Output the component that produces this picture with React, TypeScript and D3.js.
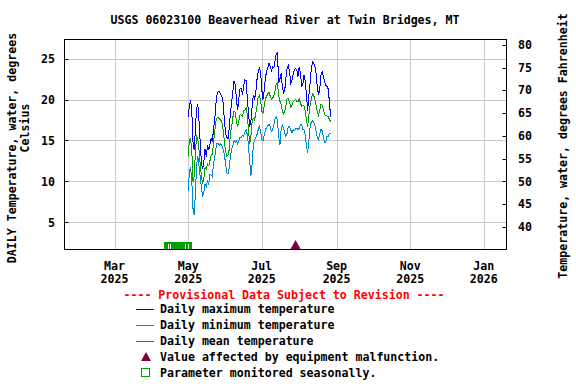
import React from 'react';
import * as d3 from 'd3';

// Daily values from 2025-05-01, degrees Celsius
const startDay = '2025-05-01';
const maxTemp = [
  17.9, 19.3, 19.9, 18.5, 14.8, 13.8, 16.5, 19.0, 19.4, 17.3,
  14.6, 12.2, 11.5, 12.5, 14.0, 13.0, 14.4, 13.8, 14.5, 15.2,
  14.8, 16.4, 17.5, 19.5, 20.7, 21.0, 20.9, 20.6, 20.3, 19.6,
  17.5, 15.8, 15.4, 15.2, 16.5, 18.4, 19.6, 21.0, 22.3, 21.8,
  20.0, 18.7, 20.2, 21.4, 21.3, 20.6, 21.7, 22.4, 22.3, 20.2,
  18.3, 16.7, 17.3, 19.2, 20.5, 20.1, 20.8, 22.4, 23.4, 23.8,
  23.4, 21.2, 20.0, 21.1, 22.7, 23.4, 23.9, 24.4, 24.0, 23.5,
  24.0, 23.9, 24.7, 25.6, 25.7, 22.0, 22.5, 23.2, 21.6, 20.8,
  21.1, 22.6, 23.9, 24.2, 23.4, 22.0, 22.3, 23.1, 23.6, 23.8,
  23.6, 22.8, 24.0, 23.3, 21.6, 21.8, 23.0, 22.3, 20.6, 18.6,
  20.5, 22.0, 23.7, 24.6, 24.4, 24.0, 23.2, 21.5, 20.6, 21.2,
  23.0, 23.4, 22.9, 22.2, 21.7, 21.6, 21.3, 19.8, 17.9,
];
const minTemp = [
  8.9, 11.2, 11.8, 10.0, 6.7, 5.9, 8.7, 12.0, 13.1, 11.8,
  10.6, 9.1, 8.3, 8.7, 9.7, 9.4, 10.0, 9.7, 10.8, 10.8,
  10.6, 12.2, 13.0, 14.0, 14.7, 14.6, 14.4, 14.6, 14.3, 13.9,
  13.2, 12.2, 11.1, 10.9, 11.7, 13.1, 13.9, 14.4, 15.0, 14.8,
  15.0, 14.6, 15.0, 15.4, 15.4, 15.6, 15.5, 16.0, 16.3, 15.7,
  14.3, 12.4, 10.7, 12.2, 14.4, 15.1, 15.4, 15.7, 16.3, 16.7,
  16.2, 15.1, 15.0, 15.6, 16.3, 16.6, 16.8, 17.0, 16.7, 16.1,
  16.3, 16.9, 17.6, 17.9, 17.4, 15.4, 14.4, 16.3, 16.9, 16.5,
  15.9, 15.5, 15.9, 16.7, 16.7, 16.3, 15.9, 16.3, 16.2, 16.4,
  16.5, 16.3, 16.5, 16.9, 17.0, 16.3, 16.3, 15.7, 14.4, 13.5,
  15.0, 16.6, 17.2, 17.4, 17.2, 16.8, 16.1, 15.4, 15.1, 15.8,
  16.4, 16.2, 15.5, 14.8, 14.8, 15.5, 15.5, 15.9, 15.9,
];
const meanTemp = [
  13.0, 15.1, 15.2, 13.8, 10.0, 10.6, 13.6, 15.5, 15.2, 13.8,
  12.0, 10.6, 9.7, 10.4, 11.7, 11.5, 12.1, 11.9, 12.5, 13.2,
  13.3, 14.7, 16.1, 17.3, 17.8, 17.8, 17.6, 17.5, 17.2, 16.3,
  14.8, 13.6, 13.1, 13.2, 13.9, 15.9, 16.7, 17.8, 18.6, 18.4,
  17.3, 16.6, 17.4, 18.2, 18.1, 18.0, 18.6, 18.7, 19.0, 18.1,
  16.3, 14.6, 15.5, 17.3, 17.7, 17.5, 18.3, 19.2, 20.3, 20.5,
  19.9, 18.6, 18.3, 19.2, 20.1, 20.4, 20.7, 20.9, 20.4, 20.0,
  20.2, 20.4, 21.1, 21.9, 22.0, 20.5, 19.8, 19.4, 18.7, 18.2,
  18.5, 19.3, 20.1, 20.1, 19.6, 19.1, 19.3, 19.7, 19.9, 20.0,
  19.8, 19.7, 20.1, 19.6, 19.2, 19.3, 19.2, 18.6, 17.5, 16.7,
  18.1, 19.2, 20.0, 20.7, 20.5, 20.0, 19.3, 18.5, 18.1, 18.7,
  19.4, 19.3, 18.8, 18.2, 18.0, 18.0, 17.9, 17.6, 17.3,
];

const celsiusTicks = [5, 10, 15, 20, 25];
const fahrenheitTicks = [40, 45, 50, 55, 60, 65, 70, 75, 80];
const monthTicks = ['2025-03-01', '2025-05-01', '2025-07-01', '2025-09-01', '2025-11-01', '2026-01-01'];
const seasonalSpan = ['2025-04-11', '2025-05-03'];
const seasonalGaps = ['2025-04-14', '2025-04-16', '2025-04-28', '2025-05-01'];
const malfunctionDays = ['2025-07-29'];

const legendItems = [
  { label: 'Daily maximum temperature', kind: 'line', color: '#0000ff' },
  { label: 'Daily minimum temperature', kind: 'line', color: '#0088d0' },
  { label: 'Daily mean temperature', kind: 'line', color: '#00a000' },
  { label: 'Value affected by equipment malfunction.', kind: 'tri', color: '#800040' },
  { label: 'Parameter monitored seasonally.', kind: 'box', color: '#00a000' },
];

const font = '"DejaVu Sans Mono", "Liberation Mono", monospace';
const parse = d3.timeParse('%Y-%m-%d');
const fmtMon = d3.timeFormat('%b');
const fmtYear = d3.timeFormat('%Y');

export default function App() {
  const width = 576;
  const height = 384;
  const left = 64.5, right = 506.5, top = 39.5, bottom = 249.5;

  const x = d3.scaleTime()
    .domain([new Date(2025, 0, 18, 12), new Date(2026, 0, 19, 19)])
    .range([left, right]);
  const y = d3.scaleLinear().domain([1.7, 27.32]).range([bottom, top]);
  const yF = d3.scaleLinear().domain([1.7 * 9 / 5 + 32, 27.32 * 9 / 5 + 32]).range([bottom, top]);

  const start = parse(startDay) as Date;
  const dayOf = (i: number) => d3.timeDay.offset(start, i);
  const line = d3.line<number>().x((_, i) => x(dayOf(i))).y(d => y(d));

  const series = [
    { values: meanTemp, color: '#00a000' },
    { values: minTemp, color: '#0088d0' },
    { values: maxTemp, color: '#0000ff' },
  ];

  const tri = (cx: number, base: number) =>
    `M${cx - 5},${base} L${cx},${base - 9} L${cx + 5},${base} Z`;

  const txt = { fontFamily: font, fontWeight: 'bold' as const, fontSize: 11.6, fill: '#000' };

  return (
    <div style={{ position: 'absolute', left: 0, top: 0 }}>
      <svg width={width} height={height} style={{ display: 'block', background: '#fff' }}>
        <text x={285} y={24} textAnchor="middle" {...txt}>
          USGS 06023100 Beaverhead River at Twin Bridges, MT
        </text>

        {/* grid */}
        {celsiusTicks.map(t => (
          <line key={'gy' + t} x1={left} x2={right} y1={Math.round(y(t)) + 0.5} y2={Math.round(y(t)) + 0.5}
            stroke="#c8c8c8" strokeWidth={1} />
        ))}
        {monthTicks.map(m => {
          const px = Math.round(x(parse(m) as Date)) + 0.5;
          return <line key={'gx' + m} x1={px} x2={px} y1={top} y2={bottom} stroke="#c8c8c8" strokeWidth={1} />;
        })}

        {/* series */}
        {series.map(s => (
          <path key={s.color} d={line(s.values) || ''} fill="none" stroke={s.color}
            strokeWidth={1} shapeRendering="crispEdges" />
        ))}

        {/* seasonal marker */}
        <rect x={Math.round(x(parse(seasonalSpan[0]) as Date)) + 0.5} y={242.5}
          width={x(parse(seasonalSpan[1]) as Date) - x(parse(seasonalSpan[0]) as Date)} height={7}
          fill="#00a000" stroke="#00a000" shapeRendering="crispEdges" />
        {seasonalGaps.map(g => {
          const px = Math.round(x(parse(g) as Date)) + 0.5;
          return <line key={g} x1={px} x2={px} y1={244} y2={249} stroke="#fff" strokeWidth={1} />;
        })}
        {malfunctionDays.map(m => (
          <path key={m} d={tri(x(parse(m) as Date), 249)} fill="#800040" />
        ))}

        {/* frame */}
        <rect x={left} y={top} width={right - left} height={bottom - top} fill="none" stroke="#000" strokeWidth={1} />
        {celsiusTicks.map(t => (
          <line key={'lt' + t} x1={left} x2={left + 4} y1={Math.round(y(t)) + 0.5} y2={Math.round(y(t)) + 0.5} stroke="#000" />
        ))}
        {fahrenheitTicks.map(t => (
          <line key={'rt' + t} x1={right - 4} x2={right} y1={Math.round(yF(t)) + 0.5} y2={Math.round(yF(t)) + 0.5} stroke="#000" />
        ))}

        {/* tick labels */}
        {celsiusTicks.map(t => (
          <text key={'ly' + t} x={55} y={y(t)} dy="0.35em" textAnchor="end" {...txt}>{t}</text>
        ))}
        {fahrenheitTicks.map(t => (
          <text key={'ry' + t} x={518} y={yF(t)} dy="0.35em" textAnchor="start" {...txt}>{t}</text>
        ))}
        {monthTicks.map(m => {
          const d = parse(m) as Date;
          return (
            <g key={'xl' + m}>
              <text x={x(d)} y={269.5} textAnchor="middle" {...txt}>{fmtMon(d)}</text>
              <text x={x(d)} y={283} textAnchor="middle" {...txt}>{fmtYear(d)}</text>
            </g>
          );
        })}

        {/* axis titles */}
        <text transform="translate(16,148) rotate(-90)" textAnchor="middle" {...txt}>
          DAILY Temperature, water, degrees
        </text>
        <text transform="translate(28.5,128) rotate(-90)" textAnchor="middle" {...txt}>
          Celsius
        </text>
        <text transform="translate(567,146) rotate(-90)" textAnchor="middle" {...txt}>
          Temperature, water, degrees Fahrenheit
        </text>

        {/* legend */}
        <text x={284} y={299} textAnchor="middle" {...txt} fill="#ff0000">
          ---- Provisional Data Subject to Revision ----
        </text>
        {legendItems.map((it, i) => {
          const cy = 309 + i * 16;
          return (
            <g key={it.label}>
              {it.kind === 'line' && (
                <rect x={136} y={cy} width={18} height={1.2} fill={it.color} shapeRendering="crispEdges" />
              )}
              {it.kind === 'tri' && <path d={tri(146, cy + 4)} fill={it.color} />}
              {it.kind === 'box' && (
                <rect x={141.5} y={cy - 4.5} width={8} height={8} fill="#fff" stroke={it.color} strokeWidth={1} />
              )}
              <text x={160} y={cy + 4} {...txt}>{it.label}</text>
            </g>
          );
        })}
      </svg>
    </div>
  );
}
